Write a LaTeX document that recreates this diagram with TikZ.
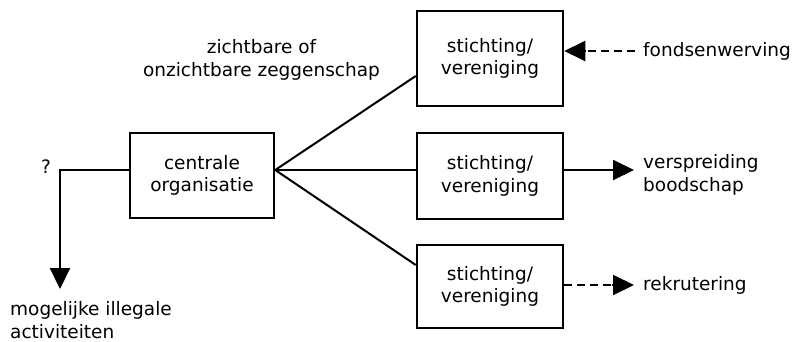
\documentclass[tikz,border=0pt]{standalone}
\usepackage{fontspec}
\setmainfont{DejaVu Sans}
\usetikzlibrary{arrows.meta,calc}
\begin{document}
\begin{tikzpicture}[x=1pt,y=-1pt,
  every node/.style={font=\fontsize{18.5}{22.5}\selectfont, inner sep=0pt},
  box/.style={draw, line width=2.5pt, align=center},
  link/.style={line width=2pt},
  tip/.style={-{Triangle[width=20pt,length=21pt]}},
  dashline/.style={dash pattern=on 8pt off 5pt},
  lbl/.style={align=left, anchor=west}]
\useasboundingbox (0,0) rectangle (795,342);

% boxes
\node[box, minimum width=144pt, minimum height=85pt] (cen) at (202,175.5) {centrale\\organisatie};
\node[box, minimum width=146pt, minimum height=95pt] (s1) at (490,58.5) {stichting/\\vereniging};
\node[box, minimum width=146pt, minimum height=86pt] (s2) at (490,176) {stichting/\\vereniging};
\node[box, minimum width=146pt, minimum height=83pt] (s3) at (490,286.5) {stichting/\\vereniging};

% attachment points on the box borders
\coordinate (hub) at (cen.east |- 0,170);
\coordinate (cw) at (cen.west |- 0,170);
\coordinate (in1) at (s1.west |- 0,76);
\coordinate (in2) at (s2.west |- 0,170);
\coordinate (in3) at (s3.west |- 0,265);
\coordinate (out1) at (s1.east |- 0,51);
\coordinate (out2) at (s2.east |- 0,170);
\coordinate (out3) at (s3.east |- 0,285);

% labels
\node[align=center] (zeg) at (261.5,60) {zichtbare of\\onzichtbare zeggenschap};
\node (q) at (46,167) {?};
\node[lbl] (ill) at (10,320) {mogelijke illegale\\activiteiten};
\node[lbl] (fonds) at (643,51) {fondsenwerving};
\node[lbl] (versp) at (643,175) {verspreiding\\boodschap};
\node[lbl] (rekr) at (643,285) {rekrutering};

% fan-out from the central organisation
\draw[link] (hub) -- (in1);
\draw[link] (hub) -- (in2);
\draw[link] (hub) -- (in3);

% branch to the left
\coordinate (corner) at (60,170);
\coordinate (down) at (60,289);
\draw[link, tip] (cw) -- (corner) -- (down);

% outgoing and incoming arrows on the right
\coordinate (f1) at (635,51);
\coordinate (f2) at (634,170);
\coordinate (f3) at (634,285);
\draw[link, dashline] (f1) -- ($(out1)+(20,0)$);
\draw[link, tip] ($(out1)+(21,0)$) -- (out1);
\draw[link, tip] (out2) -- (f2);
\draw[link, dashline] (out3) -- ($(f3)+(-21,0)$);
\draw[link, tip] ($(f3)+(-22,0)$) -- (f3);
\end{tikzpicture}
\end{document}
